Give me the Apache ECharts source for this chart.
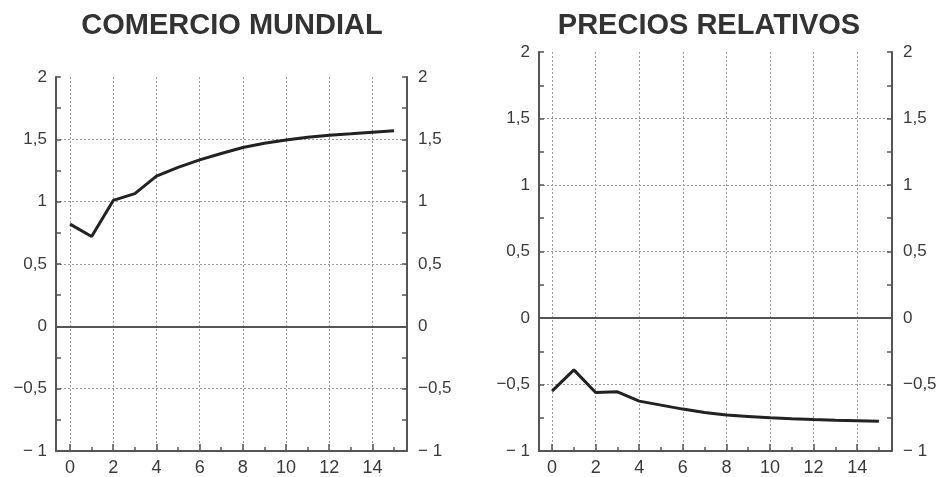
<!DOCTYPE html>
<html>
<head>
<meta charset="utf-8">
<script src="https://cdn.jsdelivr.net/npm/echarts@6/dist/echarts.min.js"></script>
<style>
  html, body { margin: 0; padding: 0; background: #fff; }
  #chart { width: 948px; height: 477px; }
</style>
</head>
<body>
<div id="chart"></div>
<script>
// pasos (trimestres) del eje horizontal
var steps = [0, 1, 2, 3, 4, 5, 6, 7, 8, 9, 10, 11, 12, 13, 14, 15];
var comercio = [0.82, 0.72, 1.01, 1.065, 1.205, 1.275, 1.335, 1.386, 1.435, 1.469, 1.495, 1.517, 1.532, 1.544, 1.557, 1.568];
var precios = [-0.55, -0.39, -0.56, -0.555, -0.625, -0.655, -0.685, -0.71, -0.73, -0.74, -0.75, -0.757, -0.763, -0.768, -0.772, -0.776];
var xLabels = [0, 2, 4, 6, 8, 10, 12, 14];
var xMinor = [1, 3, 5, 7, 9, 11, 13, 15];
var yGrid = [-0.5, 0.5, 1, 1.5];
var titles = ['COMERCIO MUNDIAL', 'PRECIOS RELATIVOS'];

var axisColor = '#555';
var textColor = '#3a3a3a';
var font = 'Liberation Sans';

function fmt(v) {
    if (v === -1) return '\u2212 1';
    return String(v).replace('.', ',').replace('-', '\u2212');
}

function pairs(ys) {
    return steps.map(function (x, i) { return [x, ys[i]]; });
}

var grids = [
    { left: 56, top: 77, width: 351, height: 375 },
    { left: 539, top: 52, width: 353, height: 400 }
];
var xRange = [[-0.65, 15.6], [-0.6, 15.6]];
var seriesData = [comercio, precios];
var titleX = [232, 709];

var option = {
    animation: false,
    backgroundColor: '#fff',
    title: [],
    grid: grids,
    xAxis: [],
    yAxis: [],
    series: []
};

for (var g = 0; g < 2; g++) {
    option.title.push({
        text: titles[g],
        left: titleX[g],
        top: 11,
        textAlign: 'center',
        padding: 0,
        textStyle: { fontFamily: font, fontSize: 29, fontWeight: 'bold', color: '#333' }
    });
    // main x axis: line, odd ticks, labels
    option.xAxis.push({
        type: 'value', gridIndex: g, position: 'bottom',
        min: xRange[g][0], max: xRange[g][1],
        axisLine: { show: true, onZero: false, lineStyle: { color: axisColor, width: 2 } },
        axisTick: { show: true, inside: true, length: 4, customValues: xMinor, lineStyle: { color: axisColor, width: 1.5 } },
        axisLabel: { show: true, customValues: xLabels, margin: 8, fontFamily: font, fontSize: 18, color: textColor },
        splitLine: { show: false }
    });
    // grid x axis: even ticks + vertical lines
    option.xAxis.push({
        type: 'value', gridIndex: g, position: 'bottom',
        min: xRange[g][0], max: xRange[g][1],
        axisLine: { show: false, onZero: false },
        axisTick: { show: true, inside: true, length: 7, customValues: xLabels, lineStyle: { color: axisColor, width: 1.5 } },
        axisLabel: { show: false },
        splitLine: { show: true, lineStyle: { color: '#9a9a9a', width: 1, type: [2, 2] } }
    });
    ['left', 'right'].forEach(function (pos) {
        option.yAxis.push({
            type: 'value', gridIndex: g, position: pos,
            min: -1, max: 2, interval: 0.5,
            axisLine: { show: true, onZero: false, lineStyle: { color: axisColor, width: 2 } },
            axisTick: { show: true, inside: true, length: 5, lineStyle: { color: axisColor, width: 1.5 } },
            minorTick: { show: true, splitNumber: 2, length: 5, lineStyle: { color: axisColor, width: 1.5 } },
            axisLabel: { show: true, margin: pos === 'left' ? 9 : 11, formatter: fmt, fontFamily: font, fontSize: 17, color: textColor },
            splitLine: { show: false }
        });
    });
    // horizontal grid lines
    option.yAxis.push({
        type: 'value', gridIndex: g, position: 'left',
        min: -1, max: 2,
        axisLine: { show: false, onZero: false },
        axisTick: { show: false, customValues: yGrid },
        axisLabel: { show: false },
        splitLine: { show: true, lineStyle: { color: '#9a9a9a', width: 1, type: [2, 2] } }
    });

    option.series.push({
        type: 'line',
        name: titles[g],
        xAxisIndex: g * 2,
        yAxisIndex: g * 3,
        data: pairs(seriesData[g]),
        symbol: 'none',
        smooth: false,
        lineStyle: { color: '#222', width: 3 },
        markLine: {
            silent: true,
            symbol: 'none',
            label: { show: false },
            lineStyle: { color: axisColor, width: 2, type: 'solid' },
            data: [{ yAxis: 0 }]
        },
        z: 5
    });
}

var chart = echarts.init(document.getElementById('chart'));
chart.setOption(option);
</script>
</body>
</html>
